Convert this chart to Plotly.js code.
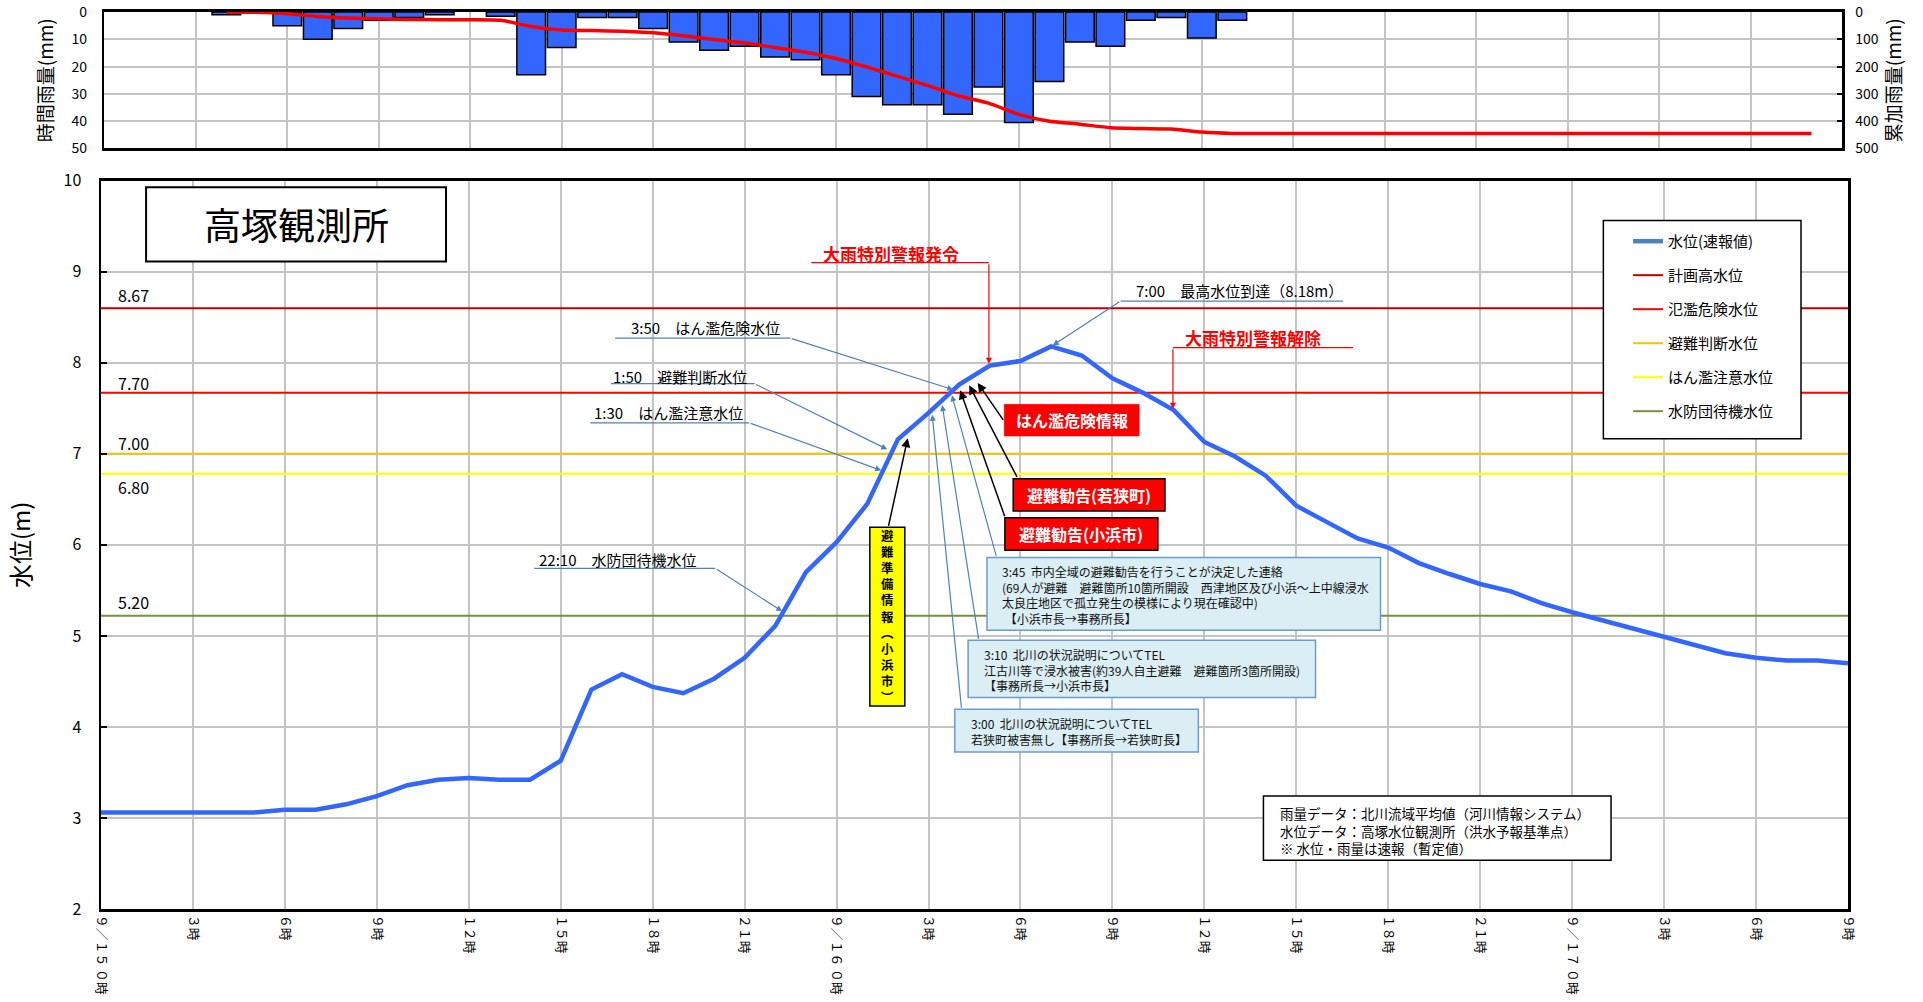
<!DOCTYPE html>
<html><head><meta charset="utf-8">
<script src="https://cdn.plot.ly/plotly-3.0.1.min.js"></script>
<style>html,body{margin:0;padding:0;background:#fff;}#chart{width:1923px;height:1002px;}</style>
</head><body><div id="chart"></div>
<script>
// ---------------- DATA ----------------
const hours = [0,1,2,3,4,5,6,7,8,9,10,11,12,13,14,15,16,17,18,19,20,21,22,23,24,25,26,27,28,29,30,31,32,33,34,35,36,37,38,39,40,41,42,43,44,45,46,47,48,49,50,51,52,53,54,55,56,57];
const waterLevel = [3.06,3.06,3.06,3.06,3.06,3.06,3.09,3.09,3.15,3.24,3.36,3.42,3.44,3.42,3.42,3.63,4.41,4.58,4.44,4.37,4.53,4.76,5.11,5.70,6.03,6.45,7.16,7.45,7.76,7.97,8.02,8.18,8.08,7.83,7.67,7.48,7.13,6.97,6.76,6.43,6.25,6.07,5.97,5.80,5.68,5.57,5.49,5.36,5.26,5.17,5.08,4.99,4.90,4.81,4.76,4.73,4.73,4.70];
const rainHours = [4,6,7,8,9,10,11,13,14,15,16,17,18,19,20,21,22,23,24,25,26,27,28,29,30,31,32,33,34,35,36,37];
const rainHourly = [1,5,10,6,3,2,1,1.5,23,13,2,2,6,11,14,12.5,16.5,17.5,23,31,34,34,37.5,27.5,40.5,25.5,11,12.5,3,2,9.5,3];
const cumHours = [4,5,6,7,8,9,10,11,12,13,14,15,16,17,18,19,20,21,22,23,24,25,26,27,28,29,30,31,32,33,34,35,36,37,38,39,40,41,42,43,44,45,46,47,48,49,50,51,52,53,54,55,56];
const rainCumulative = [1,1,6,16,22,25,27,28,28,30,53,66,68,70,76,87,101,113,130,147,170,201,235,269,307,334,375,400,411,424,427,429,440,445,445,445,445,445,445,445,445,445,445,445,445,445,445,445,445,445,445,445,445];
const thresholdNames = ['計画高水位','氾濫危険水位','避難判断水位','はん濫注意水位','水防団待機水位'];
const thresholdLevels = [8.60,7.67,7.00,6.78,5.22];
const thresholdLabels = ['8.67','7.70','7.00','6.80','5.20'];
const tickHours = [0,3,6,9,12,15,18,21,24,27,30,33,36,39,42,45,48,51,54,57];
const tickLabels = ['９／１５ ０時','３時','６時','９時','１２時','１５時','１８時','２１時','９／１６ ０時','３時','６時','９時','１２時','１５時','１８時','２１時','９／１７ ０時','３時','６時','９時'];
const rainTicks = [0,10,20,30,40,50];
const cumTicks = [0,100,200,300,400,500];

// ---------------- GEOMETRY HELPERS ----------------
const FW = 1923, FH = 1002;
const L = 100.6, R = 1848, T = 9.5, B = 908.8, MAINTOP = 180.3;
const PW = R - L, PH = B - T;
const px = fx => (fx - L) / PW;
const py = fy => (B - fy) / PH;
const hx = fx => (fx - L) / PW * 57;
const vy = fy => 10 - (fy - MAINTOP) / (B - MAINTOP) * 8;

const FONT = '"Noto Sans CJK JP", "Noto Sans", sans-serif';
const thresholdColors = ['#C00000','#FF0000','#FFC000','#FFFF00','#77933C'];
const annColor = '#4F81BD';

const shapes = [], annotations = [];
function box(x0,y0,x1,y1,fill,line,lw){
  shapes.push({type:'rect',xref:'paper',yref:'paper',x0:px(x0),x1:px(x1),y0:py(y1),y1:py(y0),
    fillcolor:fill,line:{color:line,width:lw},layer:'above'});
}
function seg(x0,y0,x1,y1,color,w){
  shapes.push({type:'line',xref:'paper',yref:'paper',x0:px(x0),x1:px(x1),y0:py(y0),y1:py(y1),
    line:{color:color,width:w},layer:'above'});
}
function label(text,x,y,o){
  annotations.push(Object.assign({xref:'paper',yref:'paper',x:px(x),y:py(y),text:text,showarrow:false,
    xanchor:'left',yanchor:'middle',font:{family:FONT,size:15,color:'#000'}},o||{}));
}
function arrow(x0,y0,x1,y1,color,w,size){
  annotations.push({xref:'x',yref:'y',axref:'x',ayref:'y',x:hx(x1),y:vy(y1),ax:hx(x0),ay:vy(y0),
    text:'',showarrow:true,arrowhead:2,arrowsize:size||1,arrowwidth:w||1.2,arrowcolor:color,standoff:0,startstandoff:0});
}

// ---------------- TRACES ----------------
const traces = [];
traces.push({type:'bar',x:rainHours,y:rainHourly,xaxis:'x2',yaxis:'y2',width:0.94,
  marker:{color:'#3366FF',line:{color:'#000',width:1.5}},showlegend:false,hoverinfo:'skip'});
traces.push({type:'scatter',mode:'lines',x:cumHours,y:rainCumulative,xaxis:'x2',yaxis:'y3',
  line:{color:'#FF0000',width:3.5,shape:'spline',smoothing:0.6},showlegend:false,hoverinfo:'skip'});
thresholdNames.forEach((n,i)=>{
  traces.push({type:'scatter',mode:'lines',x:[0,57],y:[thresholdLevels[i],thresholdLevels[i]],
    name:n,legendgroup:'g'+(i+1),legendrank:i+2,line:{color:thresholdColors[i],width:2},hoverinfo:'skip'});
});
traces.push({type:'scatter',mode:'lines',x:hours,y:waterLevel,line:{color:'#3366FF',width:4.5},
  showlegend:false,hoverinfo:'skip'});
traces.push({type:'scatter',mode:'lines',x:[null],y:[null],name:'水位(速報値)',legendgroup:'g0',legendrank:1,
  line:{color:'#4F81BD',width:4.5},hoverinfo:'skip'});

// ---------------- DECORATIONS ----------------
box(145.7,186.7,445.7,261,'#fff','#000',2);
annotations.push({xref:'paper',yref:'paper',x:px(295.7),y:py(224),text:'高塚観測所',showarrow:false,
  xanchor:'center',yanchor:'middle',font:{family:FONT,size:37,color:'#000'}});
const thrLabelY = [295,382.7,443,486.7,601.7];
thresholdLabels.forEach((t,i)=>label(t,116,thrLabelY[i],{font:{family:FONT,size:16,color:'#000'}}));
box(1603.3,220,1801,438.3,'#fff','#000',1.5);

const ev = [
  ['22:10　水防団待機水位',537,559,534,715,568,782,611],
  ['1:30　はん濫注意水位',592,412.5,590,749,422.5,881,470],
  ['1:50　避難判断水位',611,376.5,610.6,754.4,383.3,887,449],
  ['3:50　はん濫危険水位',629,326.7,614.8,790,337.7,953,389.3]
];
ev.forEach(e=>{
  label(e[0],e[1],e[2]);
  seg(e[3],e[5],e[4],e[5],annColor,1.2);
  arrow(e[4],e[5],e[6],e[7],annColor,1.2,1);
});
label('7:00　最高水位到達（8.18m）',1134,290);
seg(1120.5,300.7,1342.8,300.7,annColor,1.2);
arrow(1120.5,300.7,1052.6,345,annColor,1.2,1);

label('<b>大雨特別警報発令</b>',890.5,252.7,{xanchor:'center',font:{family:FONT,size:17,color:'#FF0000'}});
seg(811,262.3,988.7,262.3,'#FF0000',1.2);
arrow(988.7,262.3,988.7,363.3,'#FF0000',1.2,1);
label('<b>大雨特別警報解除</b>',1252.5,336.7,{xanchor:'center',font:{family:FONT,size:17,color:'#FF0000'}});
seg(1172.8,347.3,1353,347.3,'#FF0000',1.2);
arrow(1172.8,347.3,1172.8,408.3,'#FF0000',1.2,1);

box(986.8,557.3,1380.4,630,'#DAEEF3','#6C9BD2',1.5);
box(967.9,640,1315.4,697.3,'#DAEEF3','#6C9BD2',1.5);
box(954.6,709,1198.2,751.7,'#DAEEF3','#6C9BD2',1.5);
const boxFont = {family:FONT,size:12,color:'#111'};
label('3:45  市内全域の避難勧告を行うことが決定した連絡<br>(69人が避難　避難箇所10箇所開設　西津地区及び小浜～上中線浸水<br>太良庄地区で孤立発生の模様により現在確認中)<br> 【小浜市長→事務所長】',1000,594.8,{align:'left',font:boxFont});
label('3:10  北川の状況説明についてTEL<br>江古川等で浸水被害(約39人自主避難　避難箇所3箇所開設)<br>【事務所長→小浜市長】',981.4,670,{align:'left',font:boxFont});
label('3:00  北川の状況説明についてTEL<br>若狭町被害無し【事務所長→若狭町長】',968.6,731.3,{align:'left',font:boxFont});
arrow(996.4,557,951.7,395,annColor,1.2,1);
arrow(978.6,640,942,404.7,annColor,1.2,1);
arrow(961.4,709,932,414.5,annColor,1.2,1);

box(1004,404,1139,435.7,'#FF0000','#FF0000',0.5);
box(1013,478.3,1164.8,510.7,'#FF0000','#000',1.5);
box(1004.7,517.3,1157.7,550,'#FF0000','#000',1.5);
const redFont = {family:FONT,size:16,color:'#fff'};
label('<b>はん濫危険情報</b>',1071.5,419.9,{xanchor:'center',font:redFont});
label('<b>避難勧告(若狭町)</b>',1088.9,494.5,{xanchor:'center',font:redFont});
label('<b>避難勧告(小浜市)</b>',1081.2,533.7,{xanchor:'center',font:redFont});
arrow(1004,421,977.5,382.6,'#000',1.5,1.2);
arrow(1017.7,478.3,969,385,'#000',1.5,1.2);
arrow(1005,517.3,960,390,'#000',1.5,1.2);

box(869.6,527,904.6,705.7,'#FFFF00','#000',1.5);
const vchars = ['避','難','準','備','情','報','︵','小','浜','市','︶'];
label('<b>'+vchars.join('<br>')+'</b>',887.1,616.4,
  {xanchor:'center',font:{family:FONT,size:12.4,color:'#000'}});
arrow(888,527,907.5,437.8,'#000',1.5,1.2);

box(1263.3,795.7,1611,860,'#fff','#000',1.5);
label('雨量データ：北川流域平均値（河川情報システム）<br>水位データ：高塚水位観測所（洪水予報基準点）<br>※ 水位・雨量は速報（暫定値）',1278.3,830,
  {align:'left',font:{family:FONT,size:13.5,color:'#000'}});

// ---------------- LAYOUT ----------------
const grid = '#C4C4C4';
const layout = {
  width:FW,height:FH,
  margin:{l:L,r:FW-R,t:T,b:FH-B,pad:0},
  paper_bgcolor:'#fff',plot_bgcolor:'#fff',
  font:{family:FONT,color:'#000'},
  showlegend:true,
  legend:{x:px(1628),y:py(224.5),xanchor:'left',yanchor:'top',bgcolor:'rgba(0,0,0,0)',borderwidth:0,
    font:{family:FONT,size:15,color:'#000'},tracegroupgap:11.5,itemwidth:30,itemclick:false,itemdoubleclick:false},
  xaxis:{domain:[0,1],range:[0,57],anchor:'y',tickmode:'array',tickvals:tickHours,ticktext:tickLabels,tickangle:90,
    tickfont:{family:FONT,size:12.8,color:'#000'},ticks:'',ticklabelstandoff:1,ticklabeloverflow:'allow',showgrid:true,gridcolor:grid,gridwidth:2,
    showline:true,linecolor:'#000',linewidth:2.5,mirror:true,zeroline:false,fixedrange:true,automargin:false},
  yaxis:{domain:[0,py(MAINTOP)],range:[2,10],anchor:'x',dtick:1,tick0:0,ticks:'inside',ticklen:6,tickwidth:2,tickcolor:'#000',
    tickfont:{family:FONT,size:16,color:'#000'},ticklabelstandoff:14,ticklabeloverflow:'allow',showgrid:true,gridcolor:grid,gridwidth:2,
    showline:true,linecolor:'#000',linewidth:2.5,mirror:true,zeroline:false,fixedrange:true,automargin:false,
    title:{text:'水位(m)',font:{family:FONT,size:24,color:'#000'},standoff:26}},
  xaxis2:{domain:[px(104),px(1842)],range:[0,57],anchor:'y2',dtick:3,tick0:0,showticklabels:false,ticks:'',
    showgrid:true,gridcolor:grid,gridwidth:2,showline:true,linecolor:'#000',linewidth:2.5,mirror:true,zeroline:false,fixedrange:true},
  yaxis2:{domain:[py(148),py(11.5)],range:[50,-0.02],anchor:'x2',tickmode:'array',tickvals:rainTicks,ticks:'',showgrid:true,gridcolor:grid,gridwidth:2,
    tickfont:{family:FONT,size:14,color:'#000'},ticklabelstandoff:12,ticklabeloverflow:'allow',showline:true,linecolor:'#000',linewidth:2.5,mirror:true,
    zeroline:false,fixedrange:true,automargin:false,
    title:{text:'時間雨量(mm)',font:{family:FONT,size:19,color:'#000'},standoff:13}},
  yaxis3:{overlaying:'y2',side:'right',anchor:'x2',range:[500,-0.2],tickmode:'array',tickvals:cumTicks,ticks:'inside',ticklen:5,tickwidth:2,tickcolor:'#000',
    showgrid:false,tickfont:{family:FONT,size:14,color:'#000'},ticklabelstandoff:8,ticklabeloverflow:'allow',showline:true,linecolor:'#000',linewidth:2.5,
    zeroline:false,fixedrange:true,automargin:false,
    title:{text:'累加雨量(mm)',font:{family:FONT,size:19,color:'#000'},standoff:9}},
  shapes:shapes,
  annotations:annotations
};
Plotly.newPlot('chart',traces,layout,{staticPlot:true,displayModeBar:false});
</script>
</body></html>
